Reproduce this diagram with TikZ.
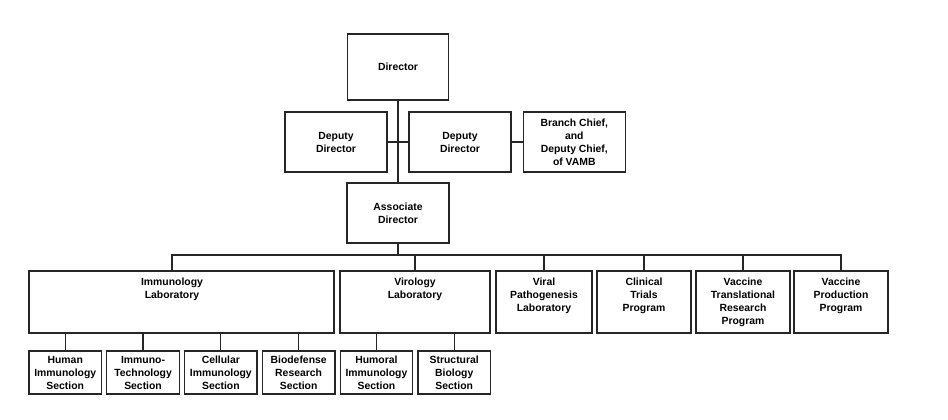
\documentclass[tikz,border=0pt]{standalone}
\usepackage{fontspec}
\setmainfont{Liberation Sans}
\usetikzlibrary{positioning}

\begin{document}
\begin{tikzpicture}[x=1pt, y=-1pt,
                unit/.style={draw=black!85, line width=1.3pt, align=center, inner sep=0pt,
                             font=\fontsize{10.4}{13}\selectfont\bfseries},
                lab/.style={unit, minimum height=62pt},
                section/.style={unit, minimum width=72.5pt, minimum height=43pt},
                labtitle/.style={anchor=north, align=center, inner sep=0pt, yshift=-7.5pt,
                             font=\fontsize{10.4}{13}\selectfont\bfseries},
                link/.style={draw=black!85, line width=1.2pt},
                node distance=4pt]

                \fill[white] (0,0) rectangle (948,420);
                \useasboundingbox (0,0) rectangle (948,420);

                % Front office
                \node[unit, minimum width=101pt, minimum height=66pt] (director) at (398,67) {Director};
                \node[unit, minimum width=102pt, minimum height=60pt] (depleft) at (336,142) {Deputy\\Director};
                \node[unit, minimum width=102pt, minimum height=60pt] (depright) at (460,142) {Deputy\\Director};
                \node[unit, minimum width=102pt, minimum height=60pt, right=11pt of depright] (branch)
                    {Branch Chief,\\and\\Deputy Chief,\\of VAMB};
                \node[unit, minimum width=102pt, minimum height=60pt] (assoc) at (398,213) {Associate\\Director};

                % Laboratories and programs
                \node[lab, minimum width=305pt,
                      label={[labtitle, xshift=-9.5pt]north:Immunology\\Laboratory}] (immlab) at (181.5,302) {};
                \node[lab, minimum width=150pt, right=4.7pt of immlab,
                      label={[labtitle]north:Virology\\Laboratory}] (virlab) {};
                \node[lab, minimum width=96pt, right=4.7pt of virlab,
                      label={[labtitle]north:Viral\\Pathogenesis\\Laboratory}] (vplab) {};
                \node[lab, minimum width=94pt, right=3.7pt of vplab,
                      label={[labtitle]north:Clinical\\Trials\\Program}] (ctlab) {};
                \node[lab, minimum width=94pt, right=3.7pt of ctlab,
                      label={[labtitle]north:Vaccine\\Translational\\Research\\Program}] (vtrplab) {};
                \node[lab, minimum width=94pt, right=2.7pt of vtrplab,
                      label={[labtitle]north:Vaccine\\Production\\Program}] (vpplab) {};

                % Sections
                \node[section] (humsec) at (65.25,372.5) {Human\\Immunology\\Section};
                \node[section, right=of humsec] (techsec) {Immuno-\\Technology\\Section};
                \node[section, right=of techsec] (cellsec) {Cellular\\Immunology\\Section};
                \node[section, right=of cellsec] (biosec) {Biodefense\\Research\\Section};
                \node[section, right=of biosec] (humorsec) {Humoral\\Immunology\\Section};
                \node[section, right=of humorsec] (structsec) {Structural\\Biology\\Section};

                % Reporting lines
                \draw[link] (director.south) -- (assoc.north);
                \draw[link] (depleft.east) -- (depright.west);
                \draw[link] (depright.east) -- (branch.west);

                \coordinate (bus) at (398,255);
                \draw[link] (assoc.south) -- (bus);
                \draw[link] ([xshift=-9.5pt]immlab.north) |- (bus) -| (vpplab.north);
                \foreach \lab in {virlab, vplab, ctlab, vtrplab}
                    \draw[link] (\lab.north) -- (\lab.north |- bus);

                \foreach \sec in {humsec, techsec, cellsec, biosec}
                    \draw[link] (\sec.north) -- (\sec.north |- immlab.south);
                \foreach \sec in {humorsec, structsec}
                    \draw[link] (\sec.north) -- (\sec.north |- virlab.south);
            \end{tikzpicture}
\end{document}
